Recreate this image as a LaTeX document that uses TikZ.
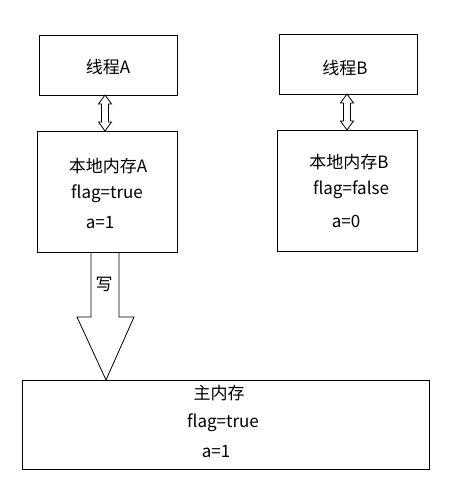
\documentclass[tikz,border=0pt]{standalone}
\usepackage{fontspec}
\setmainfont{Noto Sans CJK SC}
\usetikzlibrary{calc}
\begin{document}
\begin{tikzpicture}[x=1pt,y=-1pt,
  box/.style={draw,line width=0.9pt,inner sep=0pt,anchor=north west},
  txt/.style={inner sep=0pt,font=\fontsize{17}{19}\selectfont},
  blockarrow/.style={draw,line width=0.8pt,line join=miter}]
\useasboundingbox (0,0) rectangle (465,493);
% boxes
\node[box,minimum width=138pt,minimum height=60pt] (tA) at (39,35) {};
\node[box,minimum width=140pt,minimum height=121pt] (mA) at (37,131) {};
\node[box,minimum width=138pt,minimum height=60pt] (tB) at (279,34) {};
\node[box,minimum width=140pt,minimum height=121pt] (mB) at (277,130) {};
\node[box,minimum width=407pt,minimum height=89pt] (mm) at (22,380) {};
% texts
\node[txt] (tAt) at (108,67) {线程A};
\node[txt] (tBt) at (345,68) {线程B};
\node[txt] (mA1) at (108,166) {本地内存A};
\node[txt] (mA2) at (107,194) {flag=true};
\node[txt] (mA3) at (100,223) {a=1};
\node[txt] (mB1) at (349,162) {本地内存B};
\node[txt] (mB2) at (351,190) {flag=false};
\node[txt] (mB3) at (346,221) {a=0};
\node[txt] (m1) at (219,393) {主内存};
\node[txt] (m2) at (223,423) {flag=true};
\node[txt] (m3) at (216,452) {a=1};
% double arrows
\coordinate (dAt) at (105,95);
\coordinate (dBt) at (347,94);
\foreach \c in {dAt,dBt}{
  \draw[blockarrow] (\c) -- ++(6.5,9) -- ++(-3,0) -- ++(0,18) -- ++(3,0)
    -- ++(-6.5,9) -- ++(-6.5,-9) -- ++(3,0) -- ++(0,-18) -- ++(-3,0) -- cycle;
}
% big arrow
\coordinate (s1) at (91,252);
\coordinate (s2) at (119,252);
\coordinate (tip) at (106,380);
\draw[blockarrow] (s1) -- (91,317) -- (77,317) -- (tip) -- (134,317) -- (119,317) -- (s2);
\node[txt] (w) at (104,284) {写};
\end{tikzpicture}
\end{document}
